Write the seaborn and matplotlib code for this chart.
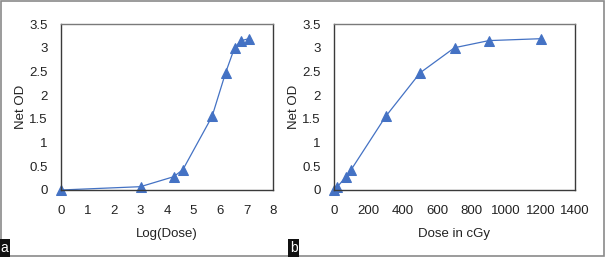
import numpy as np
import pandas as pd
import seaborn as sns
import matplotlib.pyplot as plt
from matplotlib.patches import Rectangle

# values
dose_cgy = [0, 20, 70, 100, 300, 500, 700, 900, 1200]
log_dose = [0, 3.0, 4.25, 4.6, 5.7, 6.21, 6.55, 6.8, 7.09]
net_od = [0, 0.07, 0.28, 0.43, 1.55, 2.47, 3.0, 3.15, 3.19]

df = pd.DataFrame({"log_dose": log_dose, "dose": dose_cgy, "net_od": net_od})

sns.set_theme(style="white")
plt.rcParams['font.family'] = ['Liberation Sans', 'DejaVu Sans']

blue = "#4472C4"
spine_col = "#3a3a3a"

fig = plt.figure(figsize=(6.05, 2.57), dpi=100)
ax_a = fig.add_axes([61 / 605, 1 - 190 / 257, (273 - 61) / 605, (190 - 24) / 257])
ax_b = fig.add_axes([334 / 605, 1 - 190 / 257, (575 - 334) / 605, (190 - 24) / 257])


def style_panel(ax, xlabel, xmax, xstep):
    ax.set_xlim(0, xmax)
    ax.set_ylim(0, 3.5)
    ax.set_xticks(np.arange(0, xmax + xstep / 2, xstep))
    ax.set_yticks(np.arange(0, 3.51, 0.5))
    ax.set_yticklabels(["0", "0.5", "1", "1.5", "2", "2.5", "3", "3.5"])
    ax.tick_params(axis="x", labelsize=9.5, length=0, pad=11, colors="#222222")
    ax.tick_params(axis="y", labelsize=9.5, length=0, pad=9.5, colors="#222222")
    ax.set_xlabel(xlabel, fontsize=9.5, labelpad=8, color="#222222")
    ax.set_ylabel("Net OD", fontsize=9.5, labelpad=2, color="#222222")
    for name, sp in ax.spines.items():
        sp.set_visible(True)
        sp.set_linewidth(1.0)
        sp.set_color(spine_col)
    ax.spines["top"].set_color("#7a7a7a")


sns.lineplot(data=df, x="log_dose", y="net_od", ax=ax_a, color=blue, lw=0.9,
             marker="^", markersize=7.5, markeredgecolor=blue, clip_on=False)
style_panel(ax_a, "Log(Dose)", 8, 1)

sns.lineplot(data=df, x="dose", y="net_od", ax=ax_b, color=blue, lw=0.9,
             marker="^", markersize=7.5, markeredgecolor=blue, clip_on=False)
style_panel(ax_b, "Dose in cGy", 1400, 200)

# outer frame
fig.patches.append(Rectangle((0.001, 0.002), 0.997, 0.995, transform=fig.transFigure,
                             fill=False, edgecolor="#8a8a8a", lw=1.2))

# panel letters
for x, lab in [(0.5 / 605, "a"), (290 / 605, "b")]:
    fig.text(x, 2 / 257, lab, color="white", fontsize=10, ha="left", va="bottom",
             bbox=dict(boxstyle="square,pad=0.12", fc="#111111", ec="none"))

fig.savefig("out.png", dpi=100)
